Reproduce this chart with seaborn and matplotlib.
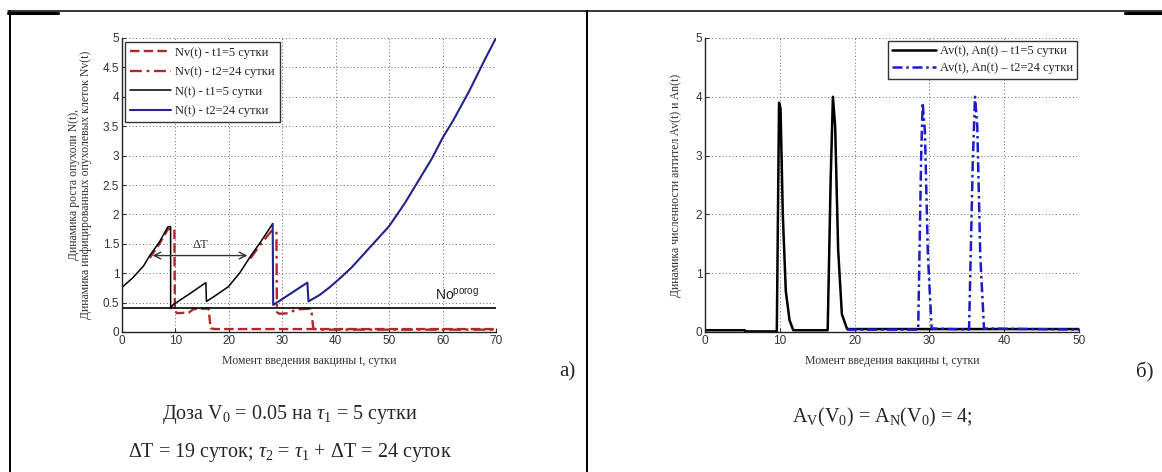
import numpy as np
import pandas as pd
import seaborn as sns
import matplotlib
matplotlib.use('Agg')
import matplotlib.pyplot as plt
from matplotlib.lines import Line2D

# ---- panel a): tumour N(t) and infected cells Nv(t) ----
n1_t = [0, 2, 4, 5.2, 7, 8.6, 9.1, 9.1, 9.5, 12.5, 15.7, 15.8, 17.5, 19.9, 22, 24, 26, 28.2]
n1_v = [0.76, 0.92, 1.12, 1.3, 1.53, 1.79, 1.79, 0.4, 0.46, 0.64, 0.84, 0.52, 0.62, 0.77, 1.0, 1.28, 1.54, 1.84]

n2_t = [28.2, 28.3, 31.5, 34.7, 34.9, 37, 39, 41, 43, 45, 47, 50, 53, 55, 58, 60, 62, 65, 68, 70]
n2_v = [1.84, 0.46, 0.65, 0.84, 0.52, 0.63, 0.77, 0.93, 1.1, 1.3, 1.5, 1.8, 2.2, 2.5, 2.95, 3.3, 3.6, 4.1, 4.65, 5.0]

nv1_t = [5.2, 7, 8.6, 9.8, 9.9, 10.3, 12.5, 13.4, 16.2, 16.6, 17.5, 70]
nv1_v = [1.26, 1.5, 1.75, 1.75, 0.36, 0.32, 0.33, 0.39, 0.4, 0.06, 0.05, 0.05]

nv2_t = [24.0, 26, 28.0, 28.9, 29.0, 29.4, 31.4, 32.4, 35.4, 35.8, 36.6, 70]
nv2_v = [1.25, 1.5, 1.72, 1.72, 0.34, 0.31, 0.32, 0.38, 0.4, 0.06, 0.04, 0.04]

n_porog = 0.4
dt_left, dt_right, dt_level = 5.2, 24.0, 1.3

labels_a = ['Nv(t) - t1=5 сутки', 'Nv(t) - t2=24 сутки', 'N(t) - t1=5 сутки', 'N(t) - t2=24 сутки']

# ---- panel б): antibodies Av(t), An(t) ----
a1_t = [0, 5.3, 5.4, 9.6, 9.9, 10.1, 10.4, 10.8, 11.3, 11.8, 16.4, 16.8, 17.1, 17.4, 17.8, 18.3, 19, 50]
a1_v = [0.03, 0.03, 0.01, 0.01, 3.9, 3.8, 2.0, 0.7, 0.2, 0.03, 0.03, 2.6, 4.0, 3.5, 1.4, 0.3, 0.05, 0.05]

a2_t = [19, 28.5, 28.9, 29.1, 29.4, 29.8, 30.3, 35.3, 35.8, 36.1, 36.4, 36.8, 37.3, 50]
a2_v = [0.04, 0.04, 3.0, 3.9, 3.4, 1.3, 0.06, 0.04, 2.9, 4.0, 3.5, 1.3, 0.06, 0.04]

labels_b = ['Av(t), An(t) – t1=5 сутки', 'Av(t), An(t) – t2=24 сутки']

sns.set_theme(style='white')
plt.rcParams['font.family'] = ['Liberation Serif', 'DejaVu Serif']
plt.rcParams['mathtext.fontset'] = 'custom'
plt.rcParams['mathtext.rm'] = 'Liberation Serif'
plt.rcParams['mathtext.it'] = 'Liberation Serif:italic'
plt.rcParams['mathtext.sf'] = 'Liberation Sans'

W, H = 1162, 472
fig = plt.figure(figsize=(W / 100, H / 100), dpi=100)
fig.patch.set_facecolor('white')

ax1 = fig.add_axes([122 / W, 1 - 332 / H, 374 / W, 294 / H])
ax2 = fig.add_axes([705 / W, 1 - 332 / H, 374 / W, 294 / H])

red = '#b0282a'
navy = '#23238a'
blue = '#1c1cc8'

sns.lineplot(x=nv1_t, y=nv1_v, ax=ax1, estimator=None, sort=False, color=red,
             lw=1.7, dashes=False, linestyle=(0, (4, 1.8)), label=labels_a[0])
sns.lineplot(x=nv2_t, y=nv2_v, ax=ax1, estimator=None, sort=False, color=red,
             lw=1.7, dashes=False, linestyle=(0, (5, 2, 1.2, 2)), label=labels_a[1])
sns.lineplot(x=n1_t, y=n1_v, ax=ax1, estimator=None, sort=False, color='black',
             lw=1.1, label=labels_a[2])
sns.lineplot(x=n2_t, y=n2_v, ax=ax1, estimator=None, sort=False, color=navy,
             lw=1.5, label=labels_a[3])
ax1.axhline(n_porog, color='black', lw=1.2)

ax1.annotate('', xy=(dt_left, dt_level), xytext=(dt_right, dt_level),
             arrowprops=dict(arrowstyle='<->', color='#333333', lw=1.0))
ax1.text((dt_left + dt_right) / 2, dt_level + 0.07, 'ΔT', ha='center', va='bottom',
         fontsize=9, color='#333333')
ax1.text(58.6, 0.5, r'No$^{\mathsf{porog}}$', fontsize=10, family='Liberation Sans',
         color='#222222', ha='left', va='bottom')

ax1.set_xlim(0, 70)
ax1.set_ylim(0, 5)
ax1.set_xticks(np.arange(0, 71, 10))
ax1.set_yticks(np.arange(0, 5.01, 0.5))
ax1.set_yticklabels(['0', '0.5', '1', '1.5', '2', '2.5', '3', '3.5', '4', '4.5', '5'])
ax1.set_xlabel('Момент введения вакцины t, сутки', fontsize=8.5, color='#333333', labelpad=6)
ax1.set_ylabel('Динамика роста опухоли N(t),\nДинамика инфицированных опухолевых клеток Nv(t)',
               fontsize=8.5, color='#333333', labelpad=8, linespacing=1.0)
ax1.legend(loc='upper left', bbox_to_anchor=(0.008, 0.988), fontsize=9, frameon=True,
           fancybox=False, edgecolor='#333333', framealpha=1, handlelength=3.3,
           handletextpad=0.3, borderpad=0.4, labelspacing=0.6, borderaxespad=0)

sns.lineplot(x=a1_t, y=a1_v, ax=ax2, estimator=None, sort=False, color='black',
             lw=1.8, label=labels_b[0])
sns.lineplot(x=a2_t, y=a2_v, ax=ax2, estimator=None, sort=False, color=blue,
             lw=1.8, dashes=False, linestyle=(0, (4, 1.5, 1, 1.5)), label=labels_b[1])

ax2.set_xlim(0, 50)
ax2.set_ylim(0, 5)
ax2.set_xticks(np.arange(0, 51, 10))
ax2.set_yticks(np.arange(0, 6, 1))
ax2.set_xlabel('Момент введения вакцины t, сутки', fontsize=8.5, color='#333333', labelpad=6)
ax2.set_ylabel('Динамика численности антител Av(t) и An(t)', fontsize=8.5,
               color='#333333', labelpad=10)
ax2.legend(loc='upper right', bbox_to_anchor=(0.995, 0.99), fontsize=9, frameon=True,
           fancybox=False, edgecolor='#333333', framealpha=1, handlelength=3.5,
           handletextpad=0.3, borderpad=0.35, labelspacing=0.4, borderaxespad=0)

for ax in (ax1, ax2):
    ax.grid(True, linestyle=(0, (1, 2.5)), color='#666666', lw=0.7)
    ax.set_axisbelow(True)
    for s in ('top', 'right'):
        ax.spines[s].set_visible(False)
    for s in ('left', 'bottom'):
        ax.spines[s].set_color('#222222')
        ax.spines[s].set_linewidth(1.0)
    ax.tick_params(direction='in', length=3, width=0.8, labelsize=8.5,
                   colors='#333333', labelfontfamily='Liberation Sans', pad=2)
    ax.tick_params(left=True, bottom=True)
    ax.set_facecolor('white')

# table frame around the two panels
y_top = 1 - 11 / H
fig.add_artist(Line2D([8 / W, 1], [y_top, y_top], color='black', lw=1.1))
fig.add_artist(Line2D([8 / W, 58 / W], [y_top - 1.5 / H, y_top - 1.5 / H], color='black', lw=2.2))
fig.add_artist(Line2D([1125 / W, 1], [y_top - 1.5 / H, y_top - 1.5 / H], color='black', lw=2.2))
fig.add_artist(Line2D([10 / W, 10 / W], [0, y_top], color='black', lw=1.4))
fig.add_artist(Line2D([587 / W, 587 / W], [0, y_top], color='black', lw=1.4))

fig.text(567 / W, 1 - 372 / H, 'а)', fontsize=15, ha='center', va='center')
fig.text(1145 / W, 1 - 372 / H, 'б)', fontsize=15, ha='center', va='center')
fig.text(290 / W, 1 - 415 / H, r'Доза V$_0$ = 0.05 на $\tau_{\mathit{1}}$ = 5 сутки',
         fontsize=14.5, ha='center', va='center')
fig.text(290 / W, 1 - 452 / H, r'ΔT = 19 суток; $\tau_{\mathit{2}}$ = $\tau_{\mathit{1}}$ + ΔT = 24 суток',
         fontsize=14.5, ha='center', va='center')
fig.text(882 / W, 1 - 417 / H, r'A$_\mathrm{V}$(V$_0$) = A$_\mathrm{N}$(V$_0$) = 4;',
         fontsize=14.5, ha='center', va='center')

fig.savefig('out.png', dpi=100, facecolor='white')
